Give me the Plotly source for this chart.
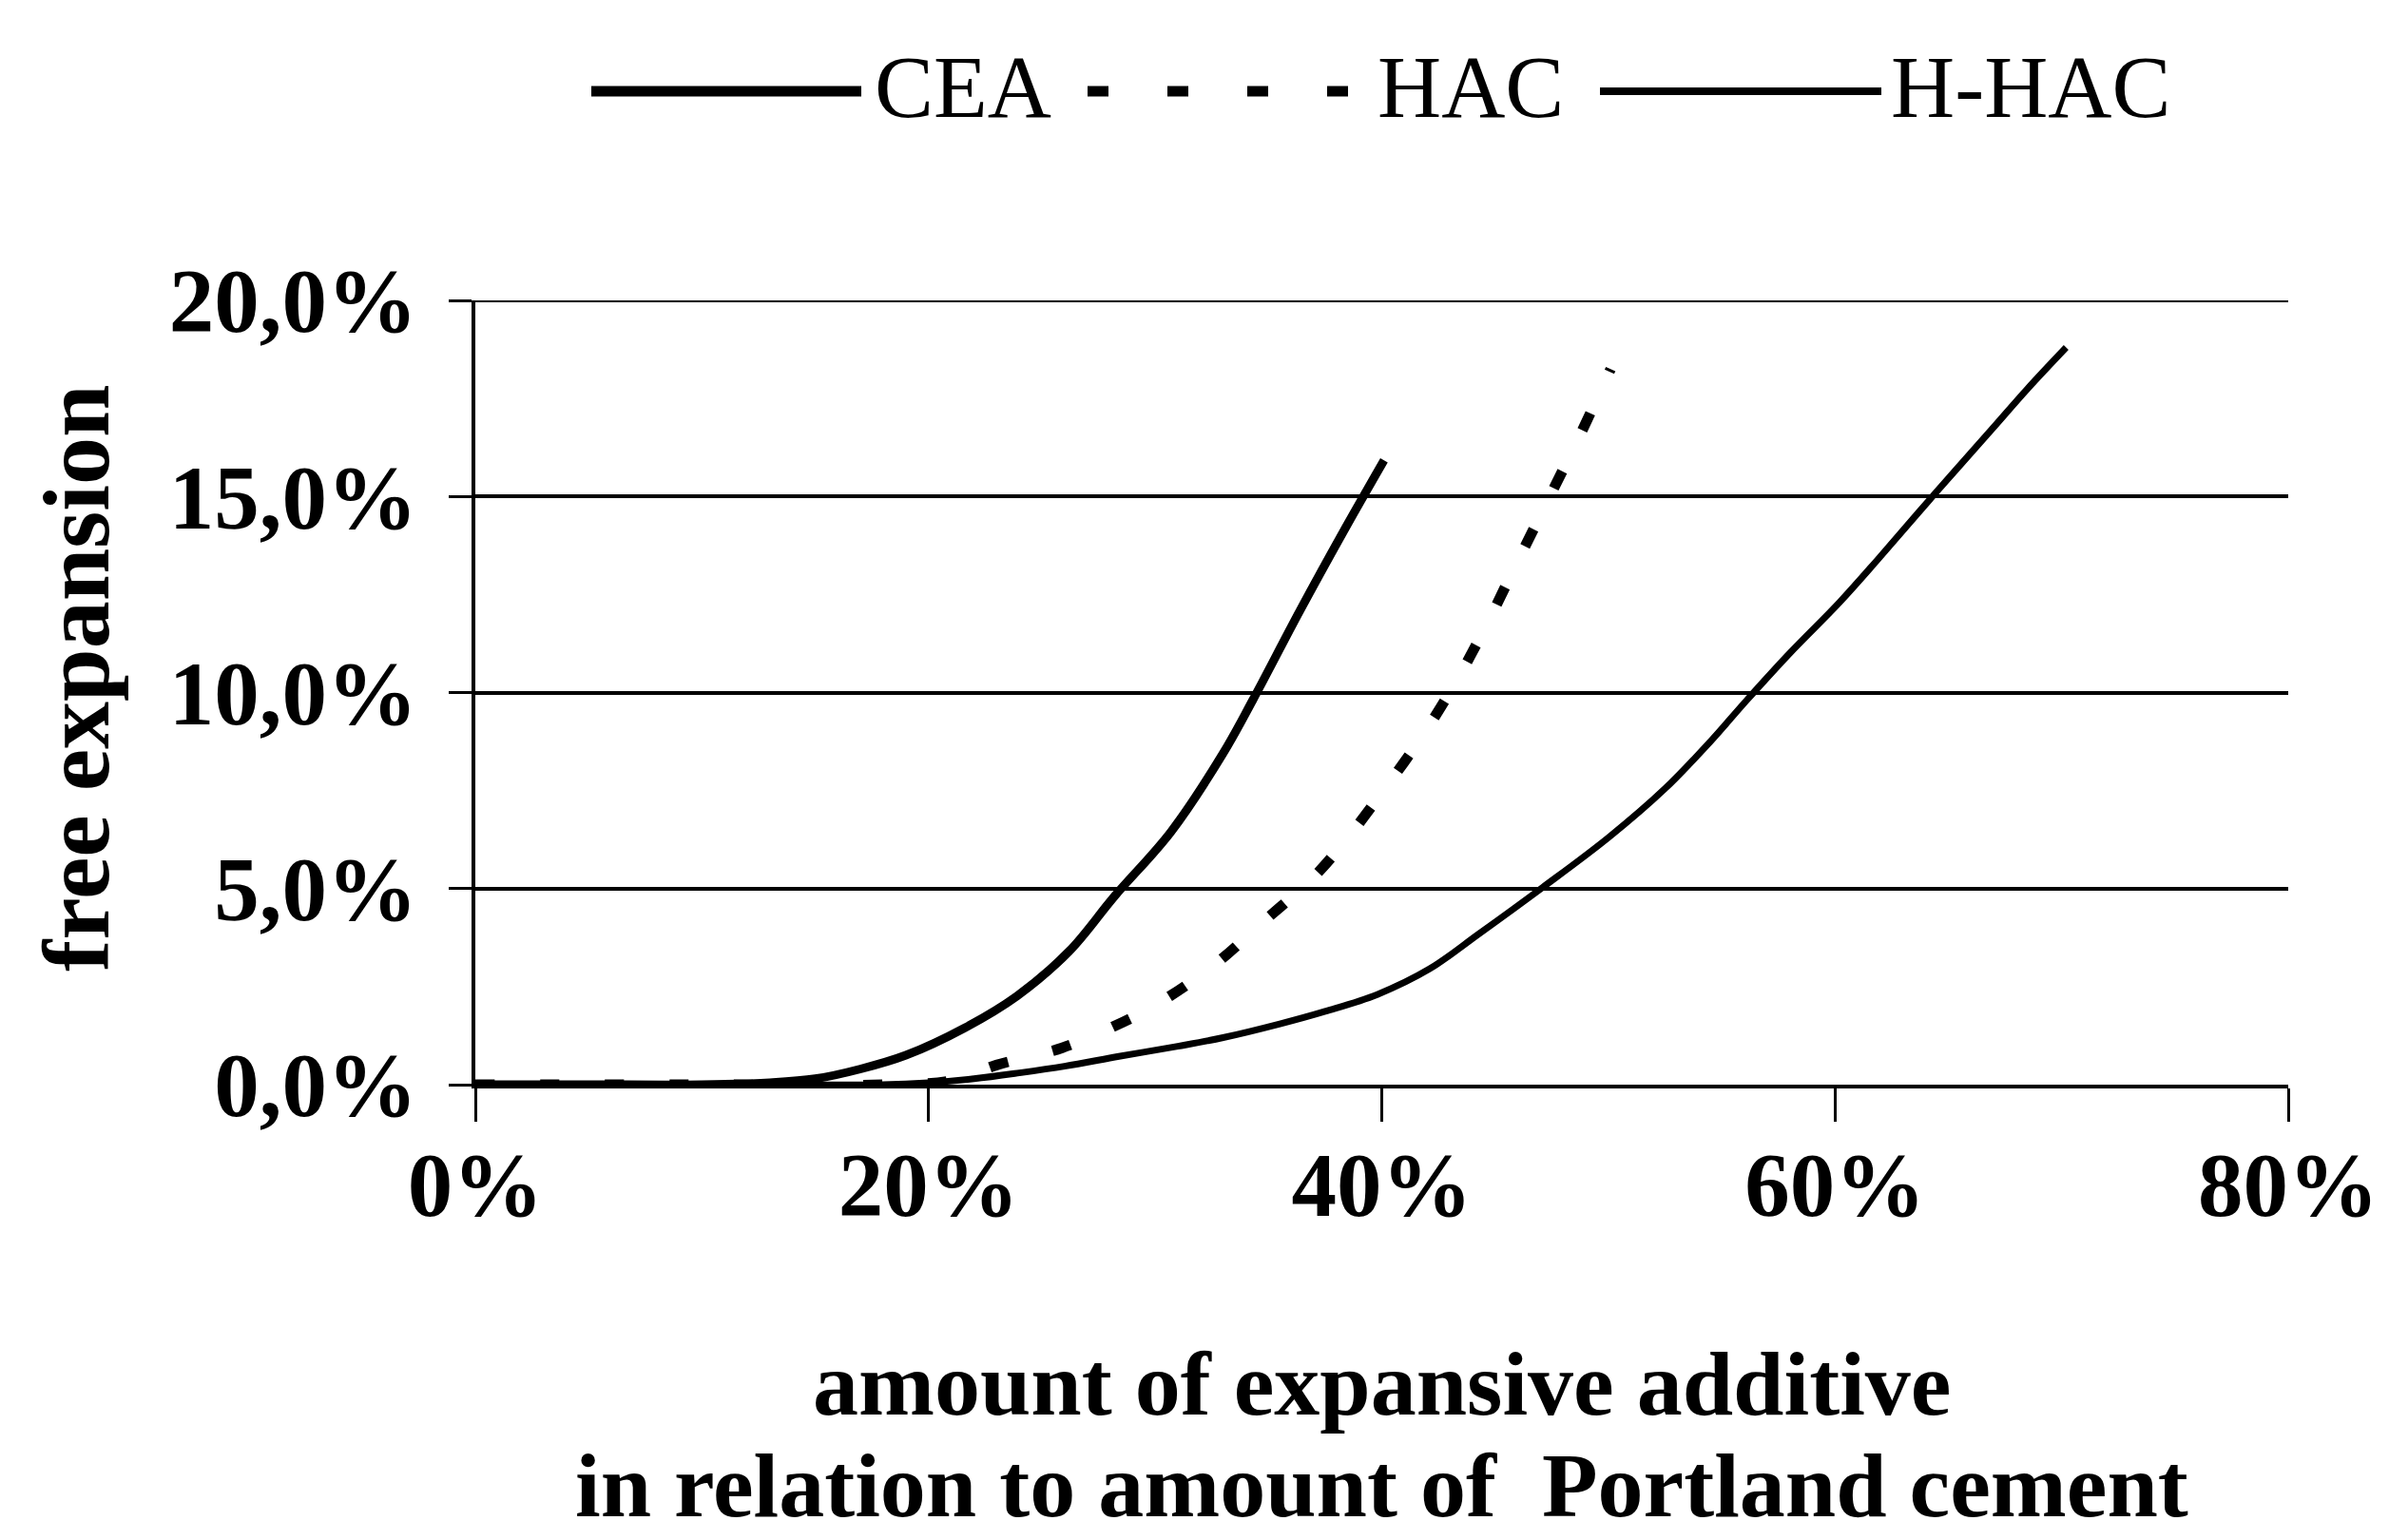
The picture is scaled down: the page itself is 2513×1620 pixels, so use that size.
import plotly.graph_objects as go

# ---- data ----
cea_x = [0, 5, 10, 13, 15, 17, 19, 21.6, 23.9, 26.2, 28.2, 30.7, 33.0, 34.3, 36.4, 38.4, 40.1]
cea_y = [0, 0, 0, 0.05, 0.15, 0.4, 0.75, 1.45, 2.26, 3.4, 4.8, 6.45, 8.45, 9.8, 12.1, 14.2, 15.92]

hac_x = [0, 10, 18, 21, 23, 25.9, 28.6, 30.1, 32.6, 34.8, 37.0, 38.5, 40.2, 41.8, 43.3, 44.6, 46.0, 47.5, 48.9, 50.1]
hac_y = [0, 0, 0, 0.1, 0.5, 0.94, 1.6, 2.06, 3.05, 4.17, 5.3, 6.3, 7.6, 8.9, 10.3, 11.7, 13.35, 15.1, 16.75, 18.25]

hhac_x = [0, 10, 18, 20, 22, 24, 26, 28.4, 31, 33, 35.5, 37.5, 39.8, 42.1, 44.3, 47.1, 50, 52.5, 54.5, 56.1, 58, 60.2, 61.9, 64.3, 66.9, 68.5, 70.2]
hhac_y = [0, 0, 0, 0.05, 0.15, 0.3, 0.47, 0.72, 0.98, 1.2, 1.55, 1.87, 2.3, 2.95, 3.85, 5.03, 6.3, 7.55, 8.75, 9.8, 11.0, 12.3, 13.4, 15.0, 16.7, 17.75, 18.8]

x_ticks = [0, 20, 40, 60, 80]
x_ticklabels = ["0%", "20%", "40%", "60%", "80%"]
y_ticks = [0, 5, 10, 15, 20]
y_ticklabels = ["0,0%", "5,0%", "10,0%", "15,0%", "20,0%"]

series_names = ["CEA", "HAC", "H-HAC"]
x_title_lines = ["amount of expansive additive", "in relation to amount of  Portland cement"]
y_title = "free expansion"

FONT = "Liberation Serif, Times New Roman, serif"
OFF = 8                      # page body margin
W, H = 2513 - OFF, 1620 - OFF
PL, PR, PT, PB = 500, 2407, 316, 1141   # plot area on the page

fig = go.Figure()
fig.add_trace(go.Scatter(x=cea_x, y=cea_y, name=series_names[0], mode="lines",
                         line=dict(color="black", width=9, shape="spline", smoothing=1.0)))
fig.add_trace(go.Scatter(x=hac_x, y=hac_y, name=series_names[1], mode="lines",
                         line=dict(color="black", width=11, dash="20px,48px", shape="spline", smoothing=1.0)))
fig.add_trace(go.Scatter(x=hhac_x, y=hhac_y, name=series_names[2], mode="lines",
                         line=dict(color="black", width=7, shape="spline", smoothing=1.0)))

fig.update_layout(
    width=W, height=H,
    margin=dict(l=PL - OFF, r=2513 - PR, t=PT - OFF, b=1620 - PB),
    paper_bgcolor="white", plot_bgcolor="white",
    showlegend=False,
    font=dict(family=FONT, color="black"),
)

fig.update_xaxes(
    range=[0, 80], tickvals=x_ticks, ticktext=x_ticklabels,
    showgrid=False, zeroline=False,
    showline=True, linecolor="black", linewidth=4,
    ticks="outside", ticklen=35, tickwidth=3, tickcolor="black",
    tickfont=dict(family=FONT, size=95, color="black", weight="bold"),
    ticklabelstandoff=-15,
)
fig.update_yaxes(
    range=[0, 20], tickvals=y_ticks, ticktext=y_ticklabels,
    showgrid=True, gridcolor="black", gridwidth=4, zeroline=False,
    showline=True, linecolor="black", linewidth=4,
    ticks="outside", ticklen=24, tickwidth=3, tickcolor="black",
    tickfont=dict(family=FONT, size=95, color="black", weight="bold"),
    ticklabelstandoff=14,
)

pw, ph = PR - PL, PB - PT
def px_x(p):
    return (p - PL) / pw
def px_y(p):
    return (PB - p) / ph

# top gridline at 20 % (range edge)
fig.add_shape(type="line", xref="paper", yref="y", x0=0, x1=1, y0=20, y1=20,
              line=dict(color="black", width=4))

# axis titles
fig.add_annotation(xref="paper", yref="paper", x=px_x(80), y=px_y(713), textangle=-90,
                   xanchor="center", yanchor="middle", showarrow=False, text=y_title,
                   font=dict(family=FONT, size=100, color="black", weight="bold"))
for line_text, py in zip(x_title_lines, [1455, 1562]):
    fig.add_annotation(xref="paper", yref="paper", x=0.5, y=px_y(py),
                       xanchor="center", yanchor="middle", showarrow=False, text=line_text,
                       font=dict(family=FONT, size=96, color="black", weight="bold"))

# ---- manual legend (long line samples as in the reference) ----
leg_line_y = px_y(96)
leg_text_y = px_y(91)
fig.add_shape(type="line", xref="paper", yref="paper", x0=px_x(622), x1=px_x(906),
              y0=leg_line_y, y1=leg_line_y, line=dict(color="black", width=11))
for i in range(4):
    s = 1144 + 84 * i
    fig.add_shape(type="line", xref="paper", yref="paper", x0=px_x(s), x1=px_x(s + 22),
                  y0=leg_line_y, y1=leg_line_y, line=dict(color="black", width=11))
fig.add_shape(type="line", xref="paper", yref="paper", x0=px_x(1683), x1=px_x(1979),
              y0=leg_line_y, y1=leg_line_y, line=dict(color="black", width=8))
for name, tx in zip(series_names, [918, 1447, 1987]):
    fig.add_annotation(xref="paper", yref="paper", x=px_x(tx), y=leg_text_y,
                       xanchor="left", yanchor="middle", showarrow=False,
                       text=name, font=dict(family=FONT, size=93, color="black"))

fig.write_html("out.html")
